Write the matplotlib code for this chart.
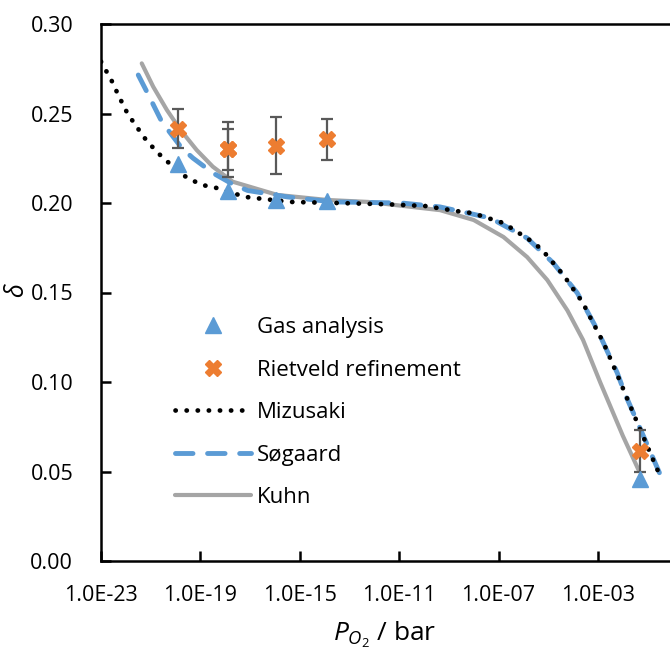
import numpy as np
import matplotlib
matplotlib.use("Agg")
import matplotlib.pyplot as plt
from matplotlib.ticker import FixedLocator, FuncFormatter, NullLocator

plt.rcParams['font.family'] = ['Open Sans', 'DejaVu Sans']
plt.rcParams['mathtext.fontset'] = 'custom'
plt.rcParams['mathtext.rm'] = 'Open Sans'
plt.rcParams['mathtext.it'] = 'Open Sans:italic'

# log10(pO2 / bar) and delta
gas_logp = [-19.9, -17.9, -15.95, -13.9, -1.3]
gas_delta = [0.222, 0.2067, 0.2017, 0.201, 0.046]

riet_logp = [-19.9, -17.9, -17.9, -15.95, -13.9, -1.3]
riet_delta = [0.2416, 0.2299, 0.2299, 0.232, 0.2355, 0.0615]
riet_err = [0.011, 0.0154, 0.0115, 0.016, 0.0115, 0.0115]

miz_logp = [-23.0, -22.7, -22.5, -22.3, -22.1, -21.9, -21.6, -21.35, -21.07, -20.75,
            -20.4, -19.7, -19.35, -18.9, -18.35, -17.2, -15.4, -13.5, -11.5, -9.95,
            -8.46, -8.06, -6.8, -5.6, -5.24, -4.39, -3.6, -3.4, -2.78, -2.22,
            -1.53, -0.81, -0.45]
miz_delta = [0.279, 0.2715, 0.2665, 0.260, 0.2547, 0.249, 0.2436, 0.238, 0.2335, 0.2285,
             0.224, 0.2156, 0.2128, 0.210, 0.2084, 0.2034, 0.2006, 0.2000, 0.1993, 0.1983,
             0.195, 0.1944, 0.1888, 0.178, 0.1737, 0.1598, 0.1441, 0.1385, 0.122, 0.104,
             0.081, 0.0575, 0.046]

sog_logp = [-21.5, -21.15, -20.55, -19.75, -19.3, -18.5, -17.7, -17.1, -15.5, -13.65,
            -10.9, -9.35, -7.33, -5.85, -4.8, -3.83, -3.02, -2.22, -1.9, -1.1, -0.4]
sog_delta = [0.2715, 0.262, 0.2453, 0.2307, 0.2251, 0.2168, 0.2105, 0.207, 0.2034, 0.2006,
             0.2000, 0.1978, 0.1916, 0.1804, 0.1665, 0.1497, 0.129, 0.105, 0.093, 0.0676, 0.0453]

kuhn_logp = [-21.36, -20.9, -20.35, -19.8, -19.15, -18.5, -17.7, -15.9, -13.9, -12.25,
             -9.35, -8.0, -6.8, -5.85, -5.04, -4.23, -3.6, -2.9, -2.0, -1.37]
kuhn_delta = [0.278, 0.265, 0.252, 0.2408, 0.2296, 0.2203, 0.2119, 0.2045, 0.2017, 0.2006,
              0.196, 0.1905, 0.181, 0.1698, 0.157, 0.140, 0.1235, 0.0995, 0.070, 0.051]

xticks_log = [-23, -19, -15, -11, -7, -3]
yticks = [0.0, 0.05, 0.10, 0.15, 0.20, 0.25, 0.30]

blue = '#5B9BD5'
orange = '#ED7D31'
grey = '#A5A5A5'

fig = plt.figure(figsize=(6.7, 6.52), dpi=100)
ax = fig.add_axes([101 / 670, 1 - 561 / 652, 1 - 101 / 670, (561 - 24) / 652])

p = lambda v: 10.0 ** np.asarray(v)

ax.plot(p(kuhn_logp), kuhn_delta, '-', color=grey, lw=3.0, label='Kuhn', zorder=2,
        solid_capstyle='round', solid_joinstyle='round')
ax.plot(p(sog_logp), sog_delta, color=blue, lw=3.5, linestyle=(0, (3.6, 3.0)),
        dash_capstyle='round', label='Søgaard', zorder=3)
ax.plot(p(miz_logp), miz_delta, color='black', lw=3.4, linestyle=(0, (0.05, 2.3)),
        dash_capstyle='round', label='Mizusaki', zorder=4)

ax.errorbar(p(riet_logp), riet_delta, yerr=riet_err, fmt='none', ecolor='#595959',
            elinewidth=1.6, capsize=4.5, capthick=1.6, zorder=5)
ax.plot(p(gas_logp), gas_delta, '^', color=blue, ms=11, mec=blue,
        linestyle='none', label='Gas analysis', zorder=6)
ax.plot(p(riet_logp), riet_delta, 'X', color=orange, ms=12, mec=orange,
        linestyle='none', label='Rietveld refinement', zorder=7)

ax.set_xscale('log')
ax.set_xlim(1e-23, 10 ** -0.1)
ax.set_ylim(0, 0.30)
ax.xaxis.set_major_locator(FixedLocator(p(xticks_log)))
ax.xaxis.set_minor_locator(NullLocator())
ax.xaxis.set_major_formatter(FuncFormatter(lambda v, pos: '1.0E%03d' % round(np.log10(v))))
ax.set_yticks(yticks)
ax.yaxis.set_major_formatter(FuncFormatter(lambda v, pos: '%.2f' % v))

ax.tick_params(direction='in', length=7, width=1.8, labelsize=15.5)
ax.tick_params(axis='y', pad=20)
ax.tick_params(axis='x', pad=17)
for s in ['left', 'bottom', 'top']:
    ax.spines[s].set_linewidth(1.8)
ax.spines['right'].set_visible(False)

fig.text(17 / 670, 1 - 290 / 652, 'δ', fontsize=18, fontstyle='italic',
         rotation=90, ha='center', va='center')
fig.text(385 / 670, 1 - 641 / 652, r'$P_{O_2}$ / bar', fontsize=19,
         ha='center', va='baseline')

handles, labels = ax.get_legend_handles_labels()
order = ['Gas analysis', 'Rietveld refinement', 'Mizusaki', 'Søgaard', 'Kuhn']
hmap = dict(zip(labels, handles))
leg = ax.legend([hmap[k] for k in order], order, loc='upper left',
                bbox_to_anchor=(175 / 670, 1 - 317 / 652), bbox_transform=fig.transFigure,
                frameon=False, fontsize=16, handlelength=3.4, handletextpad=0.3,
                labelspacing=0.97, borderpad=0, borderaxespad=0)

fig.savefig('out.png', dpi=100)
